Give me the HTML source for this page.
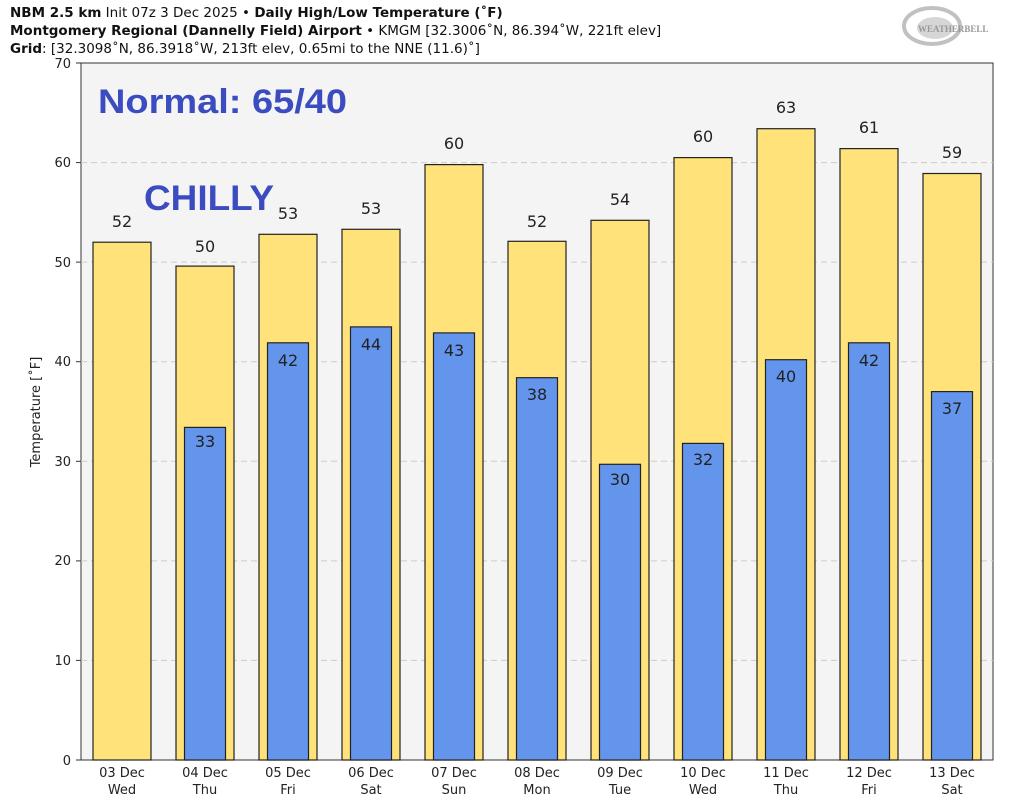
<!DOCTYPE html><html><head><meta charset="utf-8"><style>body{margin:0;background:#fff}svg{display:block;font-family:"DejaVu Sans","Liberation Sans",sans-serif}</style></head><body>
<svg width="1024" height="804" viewBox="0 0 1024 804" xmlns="http://www.w3.org/2000/svg">
<rect width="1024" height="804" fill="#fff"/>
<text x="10" y="17" font-size="13.5" fill="#111"><tspan font-weight="bold">NBM 2.5 km</tspan> Init 07z 3 Dec 2025 • <tspan font-weight="bold">Daily High/Low Temperature (˚F)</tspan></text>
<text x="10" y="35" font-size="13.5" fill="#111"><tspan font-weight="bold">Montgomery Regional (Dannelly Field) Airport</tspan> • KMGM [32.3006˚N, 86.394˚W, 221ft elev]</text>
<text x="10" y="53" font-size="13.5" fill="#111"><tspan font-weight="bold">Grid</tspan>: [32.3098˚N, 86.3918˚W, 213ft elev, 0.65mi to the NNE (11.6)˚]</text>
<g opacity="0.6"><ellipse cx="932" cy="26" rx="28" ry="18" fill="none" stroke="#999" stroke-width="4"/><ellipse cx="935" cy="28" rx="18" ry="11" fill="#bbb"/><text x="918" y="32" font-size="9" font-family="Liberation Serif,serif" font-weight="bold" fill="#555">WEATHERBELL</text></g>
<rect x="81" y="63" width="912" height="697" fill="#f4f4f4" stroke="#333" stroke-width="1"/>
<g stroke="#ccc" stroke-dasharray="6,4" stroke-width="1">
<line x1="81" x2="993" y1="660.4" y2="660.4"/><line x1="81" x2="993" y1="560.9" y2="560.9"/><line x1="81" x2="993" y1="461.3" y2="461.3"/><line x1="81" x2="993" y1="361.7" y2="361.7"/><line x1="81" x2="993" y1="262.1" y2="262.1"/><line x1="81" x2="993" y1="162.6" y2="162.6"/></g>
<g font-size="13" fill="#222" text-anchor="end">
<text x="71" y="765">0</text><text x="71" y="665">10</text><text x="71" y="565">20</text><text x="71" y="466">30</text><text x="71" y="366">40</text><text x="71" y="267">50</text><text x="71" y="167">60</text><text x="71" y="68">70</text></g>
<g stroke="#333"><line x1="76" x2="81" y1="760" y2="760"/><line x1="76" x2="81" y1="660.4" y2="660.4"/><line x1="76" x2="81" y1="560.9" y2="560.9"/><line x1="76" x2="81" y1="461.3" y2="461.3"/><line x1="76" x2="81" y1="361.7" y2="361.7"/><line x1="76" x2="81" y1="262.1" y2="262.1"/><line x1="76" x2="81" y1="162.6" y2="162.6"/><line x1="76" x2="81" y1="63" y2="63"/></g>
<text transform="translate(40,412) rotate(-90)" font-size="13" fill="#222" text-anchor="middle">Temperature [˚F]</text>
<g fill="#ffe27a" stroke="#222" stroke-width="1.2">
<rect x="93" y="242.2" width="58" height="517.8"/><rect x="176" y="266.1" width="58" height="493.9"/><rect x="259" y="234.3" width="58" height="525.7"/><rect x="342" y="229.3" width="58" height="530.7"/><rect x="425" y="164.6" width="58" height="595.4"/><rect x="508" y="241.3" width="58" height="518.7"/><rect x="591" y="220.3" width="58" height="539.7"/><rect x="674" y="157.6" width="58" height="602.4"/><rect x="757" y="128.7" width="58" height="631.3"/><rect x="840" y="148.6" width="58" height="611.4"/><rect x="923" y="173.5" width="58" height="586.5"/></g>
<g fill="#6495ed" stroke="#222" stroke-width="1.2">
<rect x="184.5" y="427.4" width="41" height="332.6"/><rect x="267.5" y="342.8" width="41" height="417.2"/><rect x="350.5" y="326.9" width="41" height="433.1"/><rect x="433.5" y="332.9" width="41" height="427.1"/><rect x="516.5" y="377.7" width="41" height="382.3"/><rect x="599.5" y="464.3" width="41" height="295.7"/><rect x="682.5" y="443.4" width="41" height="316.6"/><rect x="765.5" y="359.7" width="41" height="400.3"/><rect x="848.5" y="342.8" width="41" height="417.2"/><rect x="931.5" y="391.6" width="41" height="368.4"/></g>
<g font-size="16" fill="#222" text-anchor="middle">
<text x="122" y="227">52</text><text x="205" y="252">50</text><text x="288" y="219">53</text><text x="371" y="214">53</text><text x="454" y="149">60</text><text x="537" y="227">52</text><text x="620" y="205">54</text><text x="703" y="142">60</text><text x="786" y="113">63</text><text x="869" y="133">61</text><text x="952" y="158">59</text>
<text x="205" y="447">33</text><text x="288" y="366">42</text><text x="371" y="350">44</text><text x="454" y="356">43</text><text x="537" y="400">38</text><text x="620" y="485">30</text><text x="703" y="465">32</text><text x="786" y="382">40</text><text x="869" y="366">42</text><text x="952" y="414">37</text></g>
<g font-size="13" fill="#222" text-anchor="middle">
<text x="122" y="777">03 Dec</text><text x="122" y="794">Wed</text><text x="205" y="777">04 Dec</text><text x="205" y="794">Thu</text><text x="288" y="777">05 Dec</text><text x="288" y="794">Fri</text><text x="371" y="777">06 Dec</text><text x="371" y="794">Sat</text><text x="454" y="777">07 Dec</text><text x="454" y="794">Sun</text><text x="537" y="777">08 Dec</text><text x="537" y="794">Mon</text><text x="620" y="777">09 Dec</text><text x="620" y="794">Tue</text><text x="703" y="777">10 Dec</text><text x="703" y="794">Wed</text><text x="786" y="777">11 Dec</text><text x="786" y="794">Thu</text><text x="869" y="777">12 Dec</text><text x="869" y="794">Fri</text><text x="952" y="777">13 Dec</text><text x="952" y="794">Sat</text></g>
<text x="98" y="113" font-size="34" font-weight="bold" fill="#3b4cc0" font-family="Liberation Sans,sans-serif" textLength="249" lengthAdjust="spacingAndGlyphs">Normal: 65/40</text>
<text x="144" y="210" font-size="35" font-weight="bold" fill="#3b4cc0" font-family="Liberation Sans,sans-serif" textLength="130" lengthAdjust="spacingAndGlyphs">CHILLY</text>
</svg></body></html>
